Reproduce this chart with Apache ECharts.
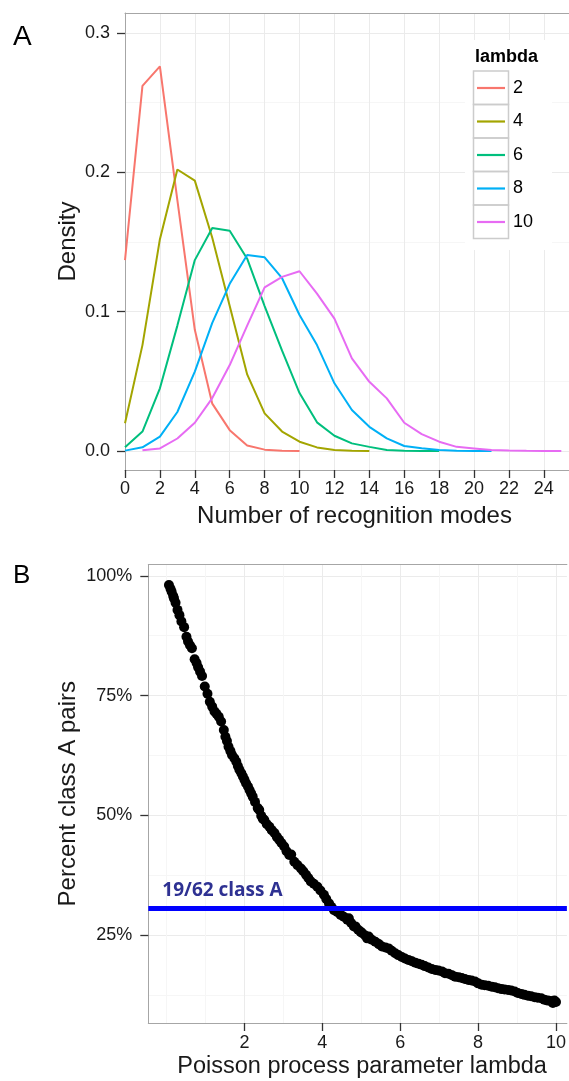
<!DOCTYPE html>
<html><head><meta charset="utf-8">
<script src="https://cdn.jsdelivr.net/npm/echarts@6/dist/echarts.min.js"></script>
<style>html,body{margin:0;padding:0;background:#fff}#c{width:569px;height:1081px}</style>
</head><body><div id="c"></div>
<script>
// ---------- Panel A data: density of number of recognition modes ----------
const lambdaNames = ['2', '4', '6', '8', '10'];
const lambdaColors = ['#F8766D', '#A3A500', '#00BF7D', '#00B0F6', '#E76BF3'];
const startMode = [0, 0, 0, 0, 1];
const density2 = [0.137, 0.262, 0.276, 0.180, 0.087, 0.034, 0.015, 0.004, 0.001, 0.0003, 0.0001];
const density4 = [0.020, 0.076, 0.152, 0.202, 0.194, 0.153, 0.104, 0.055, 0.027, 0.014, 0.0067, 0.0026, 0.0008, 0.0003, 0.0001];
const density6 = [0.0027, 0.014, 0.045, 0.090, 0.137, 0.160, 0.158, 0.138, 0.104, 0.072, 0.0416, 0.0206, 0.011, 0.0055, 0.003, 0.0008, 0.0003, 0.0001, 0.0];
const density8 = [0.0003, 0.0027, 0.0103, 0.028, 0.057, 0.092, 0.120, 0.1406, 0.139, 0.124, 0.0976, 0.076, 0.0486, 0.0294, 0.0174, 0.0091, 0.0036, 0.002, 0.0007, 0.0003, 0.0001, 0.0];
const density10 = [0.0005, 0.0019, 0.009, 0.0203, 0.038, 0.0617, 0.090, 0.1174, 0.125, 0.129, 0.113, 0.095, 0.0665, 0.0497, 0.0378, 0.0203, 0.0122, 0.0067, 0.003, 0.0019, 0.0007, 0.0004, 0.0002, 0.0001, 0.0];
const densities = [density2, density4, density6, density8, density10];
const xTicksA = [0, 2, 4, 6, 8, 10, 12, 14, 16, 18, 20, 22, 24];
const yTicksA = [0, 0.1, 0.2, 0.3];
const yMinorA = [0.05, 0.15, 0.25];

// ---------- Panel B data: percent class A pairs vs lambda ----------
const poissonLambda = [0.06,0.10,0.13,0.17,0.19,0.23,0.28,0.33,0.38,0.45,0.51,0.55,0.60,0.65,0.72,0.77,0.81,0.86,0.91,0.98,
  1.05,1.11,1.17,1.23,1.28,1.34,1.40,1.47,1.51,1.55,1.59,1.64,1.68,1.74,1.79,1.83,1.87,1.92,1.96,2.00,
  2.04,2.09,2.13,2.17,2.21,2.27,2.34,2.38,2.43,2.47,2.51,2.57,2.64,2.70,2.77,2.83,2.89,2.95,3.02,3.08,
  3.15,3.20,3.28,3.36,3.45,3.51,3.58,3.64,3.70,3.78,3.87,3.95,4.04,4.10,4.17,4.23,4.30,4.38,4.47,4.55,
  4.64,4.68,4.74,4.81,4.85,4.92,4.98,5.02,5.10,5.15,5.19,5.27,5.36,5.45,5.53,5.62,5.70,5.78,5.87,5.95,
  6.04,6.12,6.21,6.30,6.39,6.47,6.55,6.63,6.72,6.81,6.90,6.98,7.07,7.15,7.24,7.33,7.41,7.50,7.58,7.66,
  7.75,7.83,7.92,8.00,8.09,8.17,8.26,8.35,8.43,8.51,8.60,8.68,8.77,8.85,8.94,9.02,9.11,9.19,9.28,9.36,
  9.45,9.53,9.62,9.70,9.79,9.87,9.92,9.96,10.0];
const percentClassA = [98.1,97.3,96.7,95.8,95.3,94.4,92.9,91.8,90.5,89.3,87.3,86.3,85.5,84.9,82.6,81.8,80.9,80.0,79.1,76.9,
  75.4,73.7,72.7,71.7,71.2,70.6,69.6,67.8,66.4,65.5,64.3,63.4,62.6,61.9,61.2,60.3,59.5,58.8,58.1,57.4,
  56.7,56.0,55.3,54.6,53.9,52.8,51.5,51.1,49.9,49.3,49.0,48.2,47.6,46.9,46.3,45.5,44.9,44.2,43.5,42.5,
  41.7,41.8,40.3,39.6,38.9,38.3,37.6,36.9,36.2,35.7,35.1,34.3,33.4,32.5,31.6,30.9,30.2,29.8,29.2,28.8,
  28.2,28.5,27.5,26.8,26.8,26.1,25.7,25.4,24.9,24.3,24.7,24.0,23.6,23.1,22.6,22.4,22.2,21.7,21.2,20.8,
  20.4,20.1,19.8,19.5,19.2,19.0,18.8,18.5,18.2,17.9,17.7,17.6,17.4,17.0,16.9,16.6,16.3,16.2,16.0,15.8,
  15.6,15.5,15.3,14.9,14.6,14.5,14.4,14.2,14.1,13.9,13.7,13.6,13.5,13.4,13.2,12.9,12.7,12.5,12.3,12.2,
  12.0,11.9,11.8,11.5,11.3,11.2,10.8,11.3,11.0];
const observedClassA = 19 / 62 * 100;
const observedLabel = '19/62 class A';
const xTicksB = [2, 4, 6, 8, 10];
const xMinorB = [0, 1, 3, 5, 7, 9];
const yTicksB = [25, 50, 75, 100];
const yMinorB = [12.5, 37.5, 62.5, 87.5];

// ---------- styling ----------
const FONT = 'Liberation Sans, Arial, Helvetica, sans-serif';
const TEXT = '#1a1a1a';
const MAJOR = '#EBEBEB', MINOR = '#F6F6F6', BORDER = '#A6A6A6';

// visible ranges (the panels run past the right edge of the picture)
const A = { xMin: 0, xMax: 25.44, yMin: -0.0136, yMax: 0.3143 };
const B = { xMin: -0.47, xMax: 10.28, yMin: 6.62, yMax: 102.38 };

function mainAxis(dim, grid, r, ticks, name, nameGap, margin, fmt, nameSize, namePad) {
  return {
    type: 'value', gridIndex: grid, min: r[0], max: r[1],
    position: dim === 'x' ? 'bottom' : 'left',
    name: name, nameLocation: 'middle', nameGap: nameGap, nameMoveOverlap: false,
    nameRotate: dim === 'y' ? 90 : 0,
    nameTextStyle: { fontFamily: FONT, fontSize: nameSize, color: TEXT, padding: namePad || 0 },
    axisLine: { show: true, onZero: false, lineStyle: { color: BORDER, width: 1 } },
    axisTick: { show: true, length: 8, customValues: ticks, lineStyle: { color: '#333', width: 1.3 } },
    axisLabel: { show: true, customValues: ticks, margin: margin, fontFamily: FONT, fontSize: 18, color: TEXT, formatter: fmt },
    splitLine: { show: false }
  };
}
function helperAxis(dim, grid, r, vals, color) {
  return {
    type: 'value', gridIndex: grid, min: r[0], max: r[1],
    position: dim === 'x' ? 'bottom' : 'left',
    axisLine: { show: false, onZero: false },
    axisTick: { show: false, customValues: vals },
    axisLabel: { show: false },
    splitLine: { show: true, lineStyle: { color: color, width: 1 } }
  };
}
function topBorder(grid, r) {
  return {
    type: 'value', gridIndex: grid, min: r[0], max: r[1], position: 'top',
    axisLine: { show: true, onZero: false, lineStyle: { color: BORDER, width: 1 } },
    axisTick: { show: false }, axisLabel: { show: false }, splitLine: { show: false }
  };
}

const xAxis = [
  mainAxis('x', 0, [A.xMin, A.xMax], xTicksA, 'Number of recognition modes', 34, 10, v => String(v), 24, [0, 0, 0, 15]),
  helperAxis('x', 0, [A.xMin, A.xMax], xTicksA, MAJOR),
  topBorder(0, [A.xMin, A.xMax]),
  mainAxis('x', 1, [B.xMin, B.xMax], xTicksB, 'Poisson process parameter lambda', 32, 11, v => String(v), 23.5, [0, 0, 0, 9]),
  helperAxis('x', 1, [B.xMin, B.xMax], xTicksB, MAJOR),
  helperAxis('x', 1, [B.xMin, B.xMax], xMinorB, MINOR),
  topBorder(1, [B.xMin, B.xMax])
];
const yAxis = [
  mainAxis('y', 0, [A.yMin, A.yMax], yTicksA, 'Density', 45, 15, v => v.toFixed(1), 24),
  helperAxis('y', 0, [A.yMin, A.yMax], yTicksA, MAJOR),
  helperAxis('y', 0, [A.yMin, A.yMax], yMinorA, MINOR),
  mainAxis('y', 1, [B.yMin, B.yMax], yTicksB, 'Percent class A pairs', 68, 16, v => v + '%', 24),
  helperAxis('y', 1, [B.yMin, B.yMax], yTicksB, MAJOR),
  helperAxis('y', 1, [B.yMin, B.yMax], yMinorB, MINOR)
];

const series = lambdaNames.map((nm, i) => ({
  name: nm, type: 'line', xAxisIndex: 0, yAxisIndex: 0,
  data: densities[i].map((v, k) => [startMode[i] + k, v]),
  symbol: 'none', showSymbol: false, smooth: false, z: 3,
  lineStyle: { color: lambdaColors[i], width: 2 },
  itemStyle: { color: lambdaColors[i] }
}));
series.push({
  name: 'classA', type: 'scatter', xAxisIndex: 3, yAxisIndex: 3,
  data: poissonLambda.map((l, i) => [l, percentClassA[i]]),
  symbol: 'circle', symbolSize: 10, itemStyle: { color: '#000', opacity: 1 }, z: 3
});
series.push({
  name: 'observed', type: 'line', xAxisIndex: 3, yAxisIndex: 3, data: [], z: 5,
  markLine: {
    silent: true, symbol: ['none', 'none'], animation: false,
    lineStyle: { color: '#0000FF', width: 5, type: 'solid' },
    label: { show: true, position: 'insideStartTop', formatter: observedLabel, distance: [14, 8],
             fontFamily: 'Open Sans, Lato, sans-serif', fontWeight: 'bold', fontSize: 19, color: '#2E3192' },
    data: [{ yAxis: observedClassA }]
  }
});

// legend key boxes (ggplot style)
const keyTop = 71, keyH = 33.5;
const graphic = [{ type: 'rect', left: 465, top: 40, shape: { width: 87, height: 210 }, style: { fill: '#fff' }, z: 1 }];
lambdaNames.forEach((nm, i) => graphic.push({
  type: 'rect', z: 6, shape: { x: 473.5, y: keyTop + keyH * i, width: 35, height: keyH },
  style: { fill: 'none', stroke: '#CCCCCC', lineWidth: 1.5 }
}));

const option = {
  animation: false,
  backgroundColor: '#fff',
  title: [
    { text: 'A', left: 13, top: 23, padding: 0, textStyle: { fontFamily: FONT, fontSize: 28, fontWeight: 'normal', color: '#000' } },
    { text: 'B', left: 13, top: 563, padding: 0, textStyle: { fontFamily: FONT, fontSize: 26, fontWeight: 'normal', color: '#000' } },
    { text: 'lambda', left: 475, top: 48, padding: 0, textStyle: { fontFamily: FONT, fontSize: 18, fontWeight: 'bold', color: '#000' } }
  ],
  grid: [
    { left: 125, top: 13, right: 0, bottom: 611, show: false },
    { left: 148.3, top: 564.5, right: 0, bottom: 58, show: false }
  ],
  legend: {
    data: lambdaNames.map(n => ({ name: n, icon: 'rect' })), orient: 'vertical', left: 477, top: 78, padding: 0,
    itemWidth: 28, itemHeight: 2.2, itemGap: 13.5, selectedMode: false, z: 7,
    textStyle: { fontFamily: FONT, fontSize: 18, color: '#000', lineHeight: 20, padding: [0, 0, 0, 3] }
  },
  graphic: graphic,
  xAxis: xAxis,
  yAxis: yAxis,
  series: series
};
const chart = echarts.init(document.getElementById('c'), null, { renderer: 'canvas' });
chart.setOption(option);
</script></body></html>
